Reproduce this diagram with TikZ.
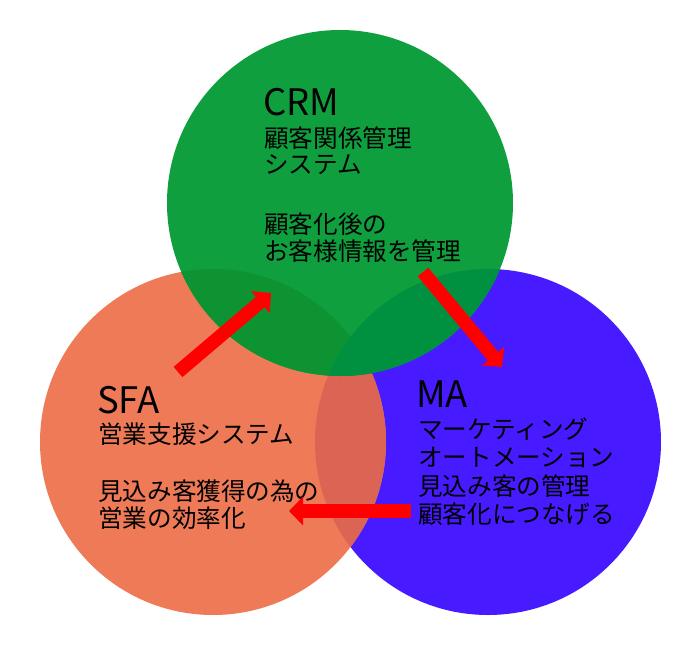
\documentclass[tikz,border=0pt]{standalone}
\usepackage{fontspec}
\setmainfont{Noto Sans CJK JP}
\usetikzlibrary{arrows.meta}
\definecolor{cgreen}{RGB}{16,159,62}
\definecolor{corange}{RGB}{239,122,88}
\definecolor{cblue}{RGB}{72,26,255}
\definecolor{cob}{RGB}{220,100,85}
\definecolor{cgo}{RGB}{13,147,50}
\definecolor{cgb}{RGB}{0,145,64}
\definecolor{arrred}{RGB}{255,0,0}
\begin{document}
\begin{tikzpicture}[x=1pt,y=-1pt,
  txt/.style={anchor=base west, inner sep=0pt, font=\fontsize{24.6}{28}\selectfont},
  ttl/.style={anchor=base west, inner sep=0pt, font=\fontsize{36.5}{40}\selectfont},
  redarrow/.style={draw=arrred, line width=13.5pt, -{Triangle[width=28pt,length=14pt]}}]
\useasboundingbox (0,0) rectangle (694,646);
\coordinate (cg) at (340,203);
\coordinate (co) at (213,442);
\coordinate (cb) at (488,442);
\def\rr{173pt}
% circles
\fill[cblue] (cb) circle[radius=\rr];
\fill[corange] (co) circle[radius=\rr];
\begin{scope}
  \clip (cb) circle[radius=\rr];
  \fill[cob] (co) circle[radius=\rr];
\end{scope}
\fill[cgreen] (cg) circle[radius=\rr];
\begin{scope}
  \clip (cg) circle[radius=\rr];
  \fill[cgo] (co) circle[radius=\rr];
  \fill[cgb] (cb) circle[radius=\rr];
\end{scope}
% CRM text
\node[ttl] (crm) at (263,115) {CRM};
\node[txt] (crm1) at (264,147) {顧客関係管理};
\node[txt] (crm2) at (264,173) {システム};
\node[txt] (crm3) at (264,233) {顧客化後の};
\node[txt] (crm4) at (264,260) {お客様情報を管理};
% SFA text
\node[ttl] (sfa) at (97,413) {SFA};
\node[txt] (sfa1) at (98,443) {営業支援システム};
\node[txt] (sfa2) at (98,500) {見込み客獲得の為の};
\node[txt] (sfa3) at (98,527) {営業の効率化};
% MA text
\node[ttl] (ma) at (416,407) {MA};
\node[txt] (ma1) at (418,438) {マーケティング};
\node[txt] (ma2) at (418,466) {オートメーション};
\node[txt] (ma3) at (418,495) {見込み客の管理};
\node[txt] (ma4) at (418,523) {顧客化につなげる};
% arrows
\coordinate (a1s) at (178,372);
\coordinate (a1e) at (271,293);
\coordinate (a2s) at (423,272);
\coordinate (a2e) at (502,367);
\coordinate (a3s) at (411,511);
\coordinate (a3e) at (289,511);
\draw[redarrow] (a1s) -- (a1e);
\draw[redarrow] (a2s) -- (a2e);
\draw[redarrow] (a3s) -- (a3e);
\end{tikzpicture}
\end{document}
